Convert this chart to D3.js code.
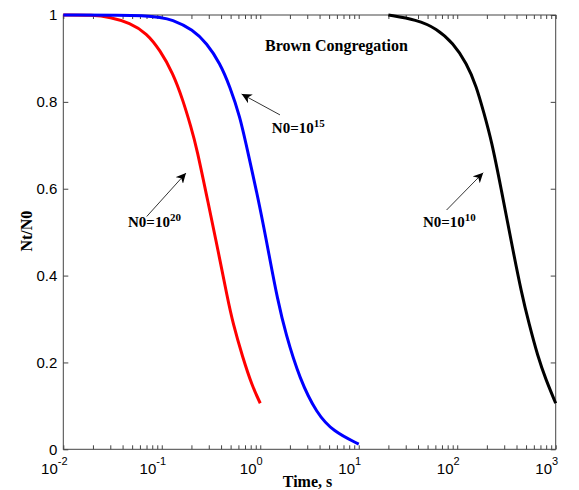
<!DOCTYPE html>
<html lang="en">
<head>
    <meta charset="UTF-8">
    <title>Brown Congregation</title>
    <script src="https://d3js.org/d3.v7.min.js"></script>
    <style>
        body {margin:0;background:#fff}
        .tick-label {font-family:"Liberation Sans", Arial, sans-serif;font-size:15px;fill:#000}
        .serif {font-family:"Liberation Serif", "Times New Roman", serif;font-weight:bold;fill:#000}
    </style>
</head>
<body>
    <div id="chart"></div>
    <script>
        // time (s) and Nt/N0
        var timeN20 = [0.01, 0.02, 0.0298, 0.0475, 0.0703, 0.096, 0.13, 0.164, 0.198, 0.225, 0.301, 0.372, 0.4645, 0.528, 0.66, 0.833, 1.0];
        var ratioN20 = [1.0, 1.0, 0.995, 0.982, 0.958, 0.919, 0.866, 0.804, 0.742, 0.697, 0.559, 0.459, 0.348, 0.29, 0.213, 0.144, 0.106];

        var timeN15 = [0.01, 0.0815, 0.13, 0.207, 0.286, 0.39, 0.492, 0.622, 0.727, 0.993, 1.256, 1.49, 1.803, 2.53, 3.74, 5.51, 10];
        var ratioN15 = [1.0, 1.0, 0.989, 0.966, 0.935, 0.889, 0.835, 0.766, 0.697, 0.559, 0.436, 0.348, 0.267, 0.16, 0.083, 0.041, 0.012];

        var timeN10 = [20, 38.7, 61.8, 91, 124.5, 157.3, 186.7, 222.4, 281, 351, 454, 535, 659, 796, 1000];
        var ratioN10 = [1.0, 0.989, 0.969, 0.935, 0.889, 0.835, 0.774, 0.712, 0.597, 0.482, 0.355, 0.29, 0.213, 0.16, 0.106];

        var xTicks = [0.01, 0.1, 1, 10, 100, 1000];
        var xExponents = ["-2", "-1", "0", "1", "2", "3"];
        var yTicks = [0, 0.2, 0.4, 0.6, 0.8, 1];
        var yTickLabels = ["0", "0.2", "0.4", "0.6", "0.8", "1"];

        var seriesColors = ["#ff0000", "#0000ff", "#000000"];

        var W = 579, H = 490;
        var margin = { top: 15, right: 23.3, bottom: 40.7, left: 63.3 };
        var w = W - margin.left - margin.right;
        var h = H - margin.top - margin.bottom;

        var svg = d3.select("#chart")
            .append("svg")
            .attr("width", W)
            .attr("height", H)
            .append("g")
            .attr("transform", `translate(${margin.left},${margin.top})`);

        var xScale = d3.scaleLog().domain([0.01, 1000]).range([0, w]);
        var yScale = d3.scaleLinear().domain([0, 1]).range([h, 0]);

        // minor + major ticks of the log axis
        var allX = [];
        for (var e = -2; e < 3; e++) {
            for (var m = 1; m < 10; m++) allX.push(m * Math.pow(10, e));
        }
        allX.push(1000);

        var axisColor = "#444";
        function styleAxis(g) {
            g.select(".domain").remove();
            g.selectAll(".tick line").attr("stroke", axisColor).attr("stroke-width", 1);
            g.selectAll(".tick text").remove();
        }

        svg.append("g").attr("transform", `translate(0,${h})`)
            .call(d3.axisBottom(xScale).tickValues(allX).tickSize(-4)).call(styleAxis);
        svg.append("g")
            .call(d3.axisTop(xScale).tickValues(allX).tickSize(-4)).call(styleAxis);
        svg.append("g")
            .call(d3.axisLeft(yScale).tickValues(yTicks).tickSize(-5)).call(styleAxis);
        svg.append("g").attr("transform", `translate(${w},0)`)
            .call(d3.axisRight(yScale).tickValues(yTicks).tickSize(-5)).call(styleAxis);

        svg.append("rect")
            .attr("width", w).attr("height", h)
            .attr("fill", "none").attr("stroke", axisColor).attr("stroke-width", 1);

        // tick labels
        svg.selectAll(".ylab").data(yTicks).enter().append("text")
            .attr("class", "tick-label")
            .attr("x", -6)
            .attr("y", d => yScale(d))
            .attr("dy", "0.35em")
            .attr("text-anchor", "end")
            .text((d, i) => yTickLabels[i]);

        var xl = svg.selectAll(".xlab").data(xTicks).enter().append("text")
            .attr("class", "tick-label")
            .attr("x", d => xScale(d) - 9)
            .attr("y", h + 25)
            .attr("text-anchor", "middle");
        xl.append("tspan").text("10");
        xl.append("tspan").attr("dy", -9).style("font-size", "11px").text((d, i) => xExponents[i]);

        // curves
        var line = d3.line().x(d => xScale(d[0])).y(d => yScale(d[1])).curve(d3.curveBasis);
        var series = [
            d3.zip(timeN20, ratioN20),
            d3.zip(timeN15, ratioN15),
            d3.zip(timeN10, ratioN10)
        ];
        series.forEach(function(pts, i) {
            svg.append("path")
                .datum(pts)
                .attr("d", line)
                .attr("fill", "none")
                .attr("stroke", seriesColors[i])
                .attr("stroke-width", 3)
                .attr("stroke-linejoin", "round");
        });

        // annotations (data coordinates)
        var notes = [
            { base: "N0=10", exp: "20", tx: 0.0454, ty: 0.513, x1: 0.0703, y1: 0.536, x2: 0.176, y2: 0.636 },
            { base: "N0=10", exp: "15", tx: 1.31, ty: 0.728, x1: 1.585, y1: 0.77, x2: 0.647, y2: 0.818 },
            { base: "N0=10", exp: "10", tx: 44.9, ty: 0.513, x1: 78, y1: 0.551, x2: 183.6, y2: 0.637 }
        ];

        svg.append("defs").append("marker")
            .attr("id", "arrow")
            .attr("viewBox", "0 0 10 10")
            .attr("refX", 10).attr("refY", 5)
            .attr("markerWidth", 10).attr("markerHeight", 10)
            .attr("markerUnits", "userSpaceOnUse")
            .attr("orient", "auto")
            .append("path")
            .attr("d", "M0,0 L10,5 L0,10 L3,5 Z")
            .attr("fill", "#000");

        notes.forEach(function(n) {
            svg.append("line")
                .attr("x1", xScale(n.x1)).attr("y1", yScale(n.y1))
                .attr("x2", xScale(n.x2)).attr("y2", yScale(n.y2))
                .attr("stroke", "#000").attr("stroke-width", 0.8)
                .attr("marker-end", "url(#arrow)");
            var t = svg.append("text")
                .attr("class", "serif")
                .attr("x", xScale(n.tx)).attr("y", yScale(n.ty))
                .style("font-size", "15px");
            t.append("tspan").text(n.base);
            t.append("tspan").attr("dy", -6).style("font-size", "11px").text(n.exp);
        });

        svg.append("text")
            .attr("class", "serif")
            .attr("x", xScale(1.117)).attr("y", yScale(0.916))
            .style("font-size", "16px")
            .text("Brown Congregation");

        // axis titles
        svg.append("text")
            .attr("class", "serif")
            .attr("x", w / 2 - 2)
            .attr("y", h + 38)
            .attr("text-anchor", "middle")
            .style("font-size", "16px")
            .text("Time, s");

        svg.append("text")
            .attr("class", "serif")
            .attr("transform", "rotate(-90)")
            .attr("x", -h / 2 + 1)
            .attr("y", -31)
            .attr("text-anchor", "middle")
            .style("font-size", "16px")
            .text("Nt/N0");
    </script>
</body>
</html>
